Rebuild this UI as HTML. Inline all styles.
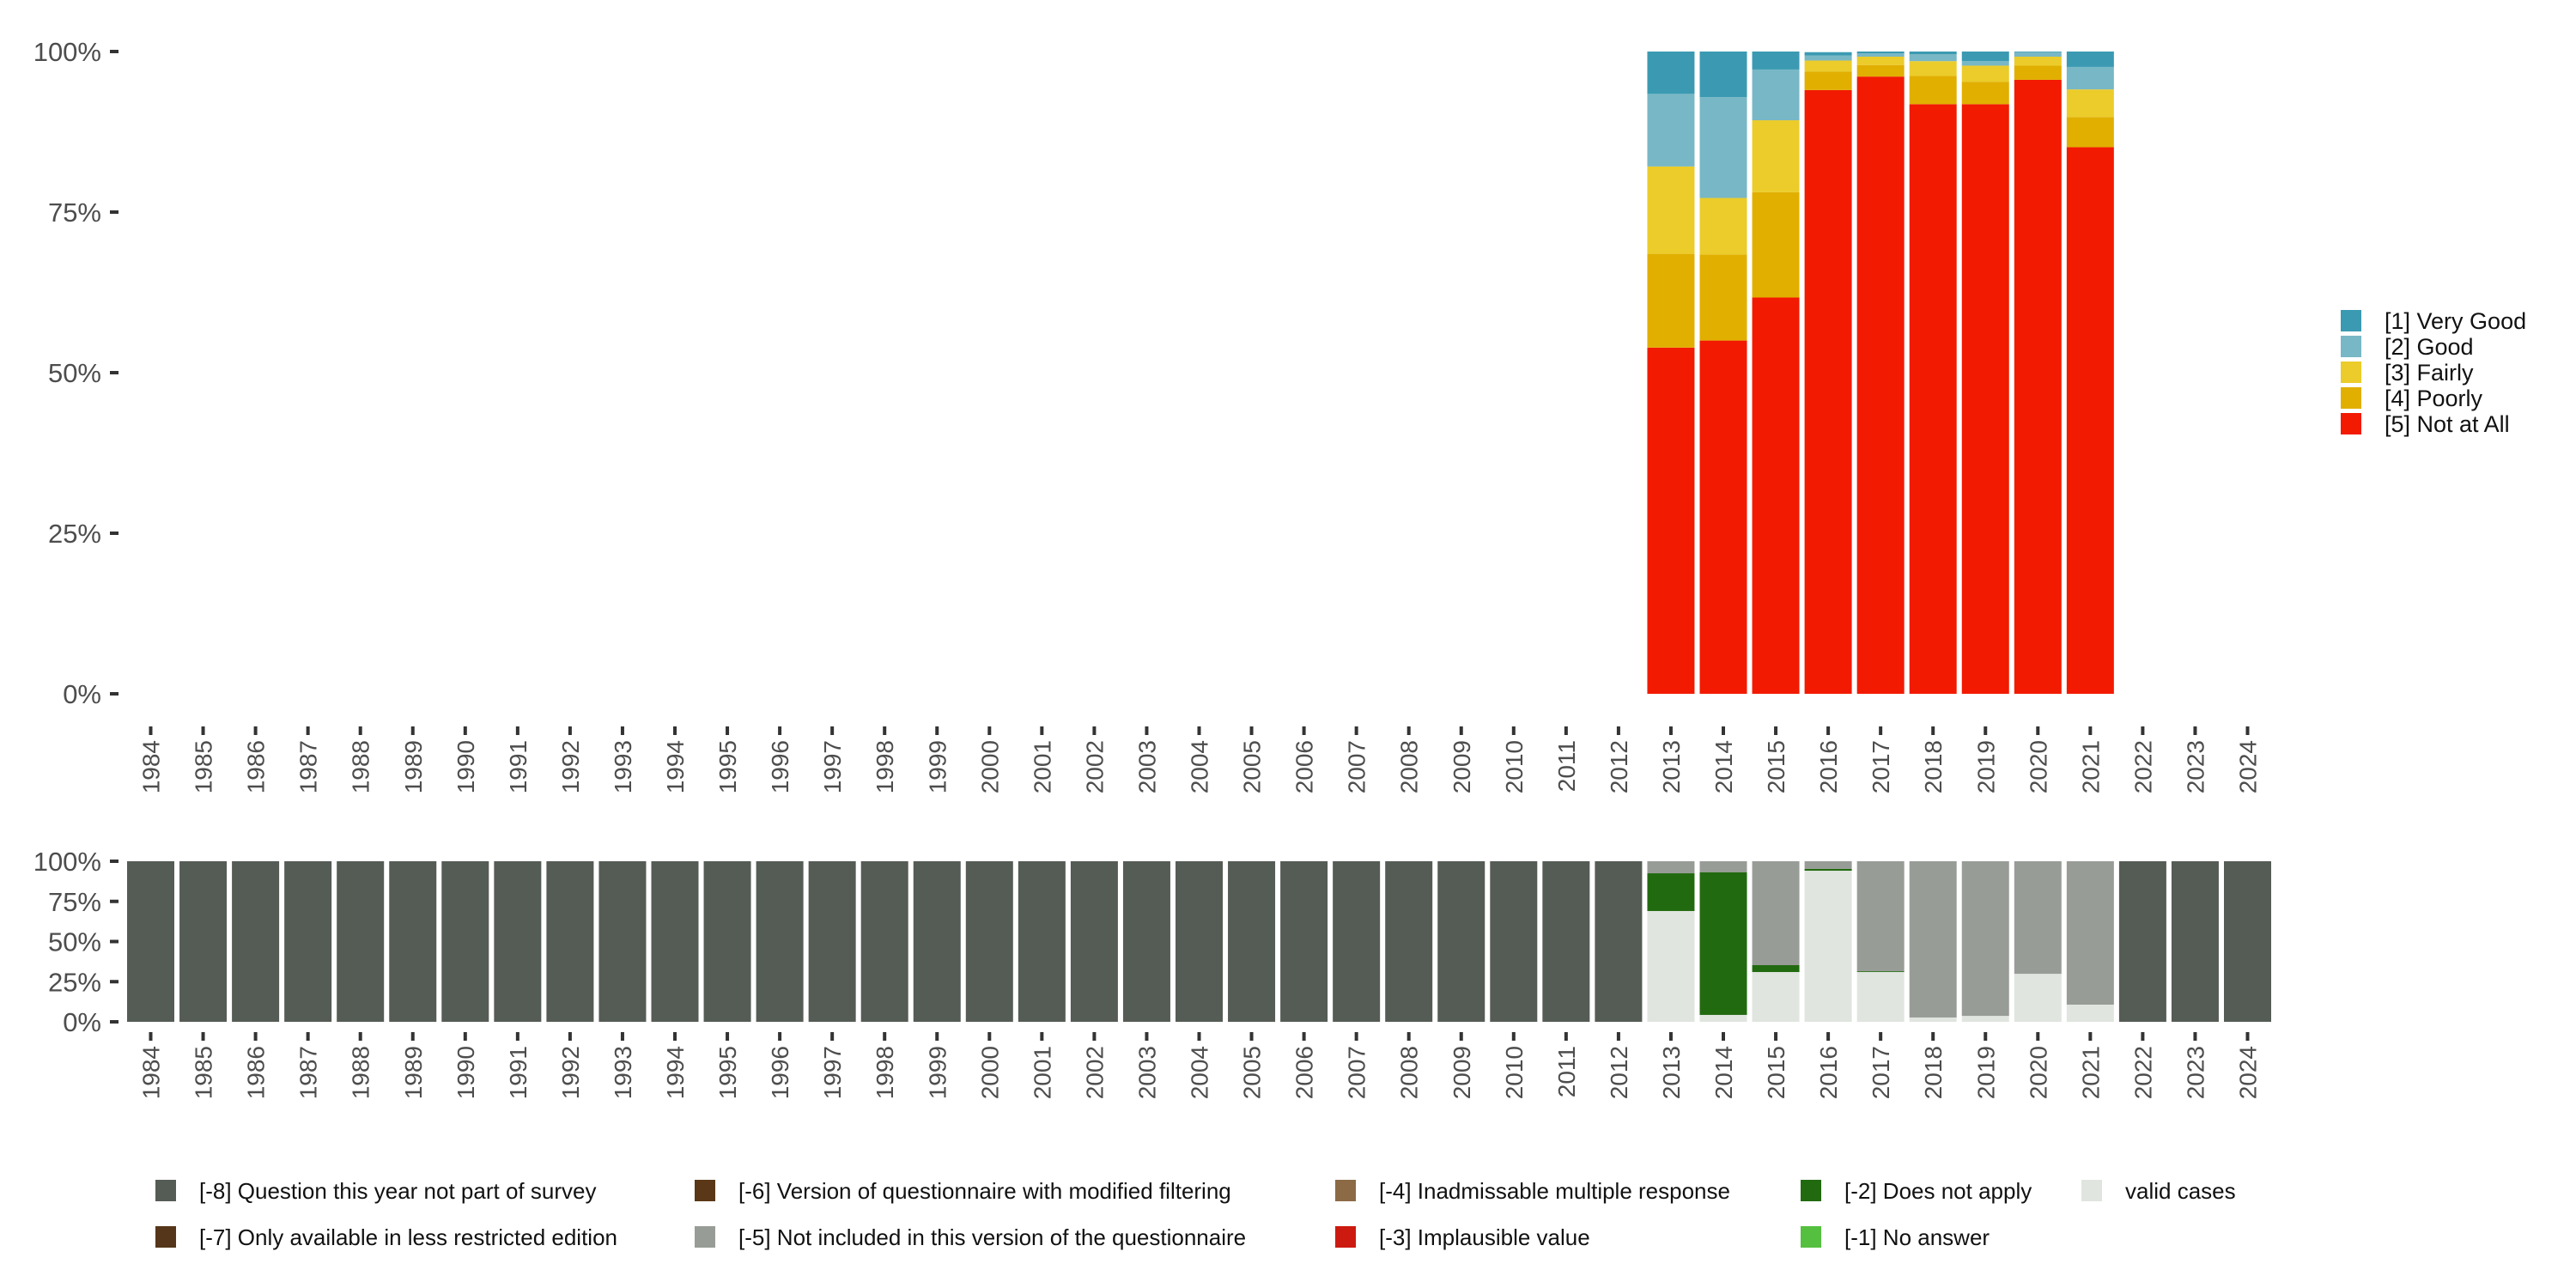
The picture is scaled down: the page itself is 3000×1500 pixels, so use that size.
<!DOCTYPE html>
<html><head><meta charset="utf-8"><style>
html,body{margin:0;padding:0;background:#fff;}
svg{display:block;font-family:"Liberation Sans","DejaVu Sans",sans-serif;}
</style></head><body>
<svg id="chart" width="3000" height="1500" viewBox="0 0 3000 1500" xmlns="http://www.w3.org/2000/svg"></svg>
<script>
const years = [];
for (let y = 1984; y <= 2024; y++) years.push(y);
const surveyYears = [2013,2014,2015,2016,2017,2018,2019,2020,2021];
const notAtAll = [53.9,55.0,61.7,94.0,96.1,91.8,91.8,95.6,85.1];
const poorly   = [14.6,13.4,16.4,2.9,1.8,4.4,3.5,2.2,4.7];
const fairly   = [13.6,8.8,11.2,1.7,1.3,2.3,2.5,1.4,4.3];
const good     = [11.3,15.7,7.9,0.8,0.5,1.1,0.7,0.7,3.5];
const veryGood = [6.6,7.1,2.8,0.5,0.3,0.4,1.5,0.1,2.4];
const validCases = [69.0,4.3,31.0,94.1,31.0,2.7,3.7,29.9,10.7];
const doesNotApply = [23.5,88.9,4.3,1.1,0.5,0,0,0,0];
const notIncluded = [7.5,6.8,64.7,4.8,68.5,97.3,96.3,70.1,89.3];
const yTicks = [0,25,50,75,100];

const svg = document.getElementById('chart');
const NS = 'http://www.w3.org/2000/svg';
function mk(tag, attrs, parent) {
  const e = document.createElementNS(NS, tag);
  for (const k in attrs) e.setAttribute(k, attrs[k]);
  (parent || svg).appendChild(e);
  return e;
}
const step = 61.05, x0 = 175.5, bw = 55;
function xc(year) { return x0 + (year - 1984) * step; }
const topPanel = {y0: 808, y1: 60};
const botPanel = {y0: 1190, y1: 1003};
function ys(p, v) { return p.y0 - (p.y0 - p.y1) * v / 100; }

function axes(p, labelTop, name) {
  const g = mk('g', {});
  
  
  yTicks.forEach(t => {
    const y = ys(p, t);
    const tx = mk('text', {x: 118, y: y + 11, 'text-anchor': 'end', 'font-size': 31, fill: '#4d4d4d'}, g);
    tx.textContent = t + '%';
    
    
    mk('rect', {x: 128, y: y - 2, width: 10, height: 4, fill: '#333'}, g);
  });
  years.forEach(yr => {
    const x = xc(yr);
    mk('rect', {x: x - 2, y: labelTop - 16, width: 4, height: 10, fill: '#333'}, g);
    const tx = mk('text', {x: 0, y: 0, 'text-anchor': 'end', 'font-size': 28, fill: '#4d4d4d',
      transform: 'translate(' + (x + 10) + ',' + labelTop + ') rotate(-90)'}, g);
    tx.textContent = yr;
    
    
  });
}

function stack(p, yr, segs, name) {
  let c = 0;
  segs.forEach(s => {
    if (s.v <= 0) return;
    const r = mk('rect', {x: xc(yr) - bw / 2, y: ys(p, c + s.v), width: bw, height: ys(p, c) - ys(p, c + s.v), fill: s.c});
    
    
    c += s.v;
  });
}

surveyYears.forEach((yr, i) => {
  stack(topPanel, yr, [
    {v: notAtAll[i], c: '#f21a00'},
    {v: poorly[i], c: '#e1af00'},
    {v: fairly[i], c: '#ebcc2a'},
    {v: good[i], c: '#78b7c5'},
    {v: veryGood[i], c: '#3b9ab2'}
  ], 'top');
});
axes(topPanel, 862, 'top');

years.forEach(yr => {
  const i = surveyYears.indexOf(yr);
  if (i < 0) {
    stack(botPanel, yr, [{v: 100, c: '#555b55'}], 'bottom');
  } else {
    stack(botPanel, yr, [
      {v: validCases[i], c: '#e0e5df'},
      {v: doesNotApply[i], c: '#226a10'},
      {v: notIncluded[i], c: '#989c96'}
    ], 'bottom');
  }
});
axes(botPanel, 1218, 'bottom');

const rl = [['[1] Very Good','#3b9ab2'],['[2] Good','#78b7c5'],['[3] Fairly','#ebcc2a'],['[4] Poorly','#e1af00'],['[5] Not at All','#f21a00']];
rl.forEach((d, i) => {
  const y = 361 + i * 30;
  const g = mk('g', {});
  
  
  mk('rect', {x: 2726, y: y, width: 24, height: 25, fill: d[1]}, g);
  const t = mk('text', {x: 2777, y: y + 22, 'font-size': 27, fill: '#111'}, g);
  t.textContent = d[0];
});

const bl = [
  ['[-8] Question this year not part of survey','#555b55',181,1374],
  ['[-7] Only available in less restricted edition','#55361a',181,1428],
  ['[-6] Version of questionnaire with modified filtering','#5a3716',809,1374],
  ['[-5] Not included in this version of the questionnaire','#989c96',809,1428],
  ['[-4] Inadmissable multiple response','#8b6a45',1555,1374],
  ['[-3] Implausible value','#cc1a10',1555,1428],
  ['[-2] Does not apply','#226a10',2097,1374],
  ['[-1] No answer','#55c040',2097,1428],
  ['valid cases','#e0e5df',2424,1374]
];
bl.forEach(d => {
  const g = mk('g', {});
  
  
  mk('rect', {x: d[2], y: d[3], width: 24, height: 25, fill: d[1]}, g);
  const t = mk('text', {x: d[2] + 51, y: d[3] + 22, 'font-size': 26, fill: '#111'}, g);
  t.textContent = d[0];
});
</script>
</body></html>
